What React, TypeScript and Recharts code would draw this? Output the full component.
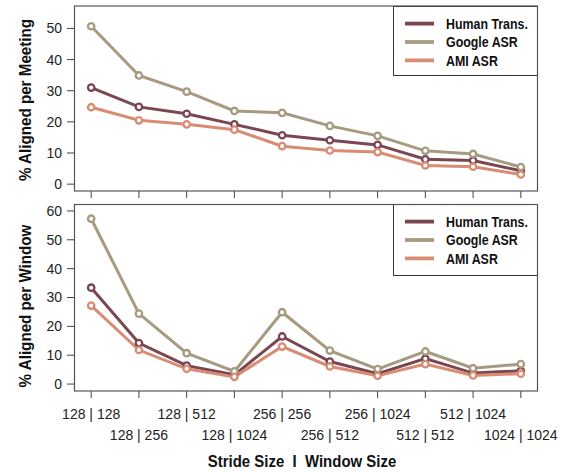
import React from 'react';
import { LineChart, Line, XAxis, YAxis, Legend } from 'recharts';

const categories = [
  '128 | 128', '128 | 256', '128 | 512', '128 | 1024', '256 | 256',
  '256 | 512', '256 | 1024', '512 | 512', '512 | 1024', '1024 | 1024',
];

// % aligned per meeting (top panel)
const meetingHuman = [31.0, 24.8, 22.6, 19.2, 15.7, 14.1, 12.6, 8.0, 7.6, 4.3];
const meetingGoogle = [50.7, 34.9, 29.7, 23.5, 22.9, 18.7, 15.5, 10.7, 9.7, 5.5];
const meetingAmi = [24.7, 20.5, 19.2, 17.5, 12.2, 10.8, 10.3, 6.0, 5.6, 3.1];

// % aligned per window (bottom panel)
const windowHuman = [33.4, 14.2, 6.4, 3.2, 16.5, 7.8, 3.6, 8.8, 3.8, 4.6];
const windowGoogle = [57.3, 24.4, 10.7, 4.4, 24.9, 11.6, 5.2, 11.3, 5.5, 6.9];
const windowAmi = [27.2, 11.8, 5.3, 2.5, 13.0, 6.1, 2.9, 6.9, 3.0, 3.6];

const meetingTicks = [0, 10, 20, 30, 40, 50];
const windowTicks = [0, 10, 20, 30, 40, 50, 60];

const series = [
  { key: 'human', name: 'Human Trans.', color: '#7a4652' },
  { key: 'google', name: 'Google ASR', color: '#a69a80' },
  { key: 'ami', name: 'AMI ASR', color: '#d98c72' },
];

const meetingData = categories.map((label, i) => ({
  i, label, human: meetingHuman[i], google: meetingGoogle[i], ami: meetingAmi[i],
}));
const windowData = categories.map((label, i) => ({
  i, label, human: windowHuman[i], google: windowGoogle[i], ami: windowAmi[i],
}));

const xTicks = categories.map((_, i) => i);
const xDomain = [-0.36, 9.36];

const sans = '"Liberation Sans", Arial, Helvetica, sans-serif';

const LegendBox = ({ height }: { height: number }) => (
  <svg width={145} height={height} style={{ display: 'block' }}>
    <rect x={0.5} y={0.5} width={144} height={height - 1} fill="#fff" stroke="#333" />
    {series.map((s, k) => {
      const cy = 17.6 + k * 18.4;
      return (
        <g key={s.key}>
          <line x1={12} x2={41} y1={cy} y2={cy} stroke={s.color} strokeWidth={3.8} />
          {/* condensed bold look */}
          <text
            transform={`translate(53,${cy + 5.4}) scale(0.8,1)`}
            fontFamily={sans}
            fontWeight="bold"
            fontSize={15.5}
            fill="#111"
          >
            {s.name}
          </text>
        </g>
      );
    })}
  </svg>
);

const EmptyTick = () => <g />;

const RowTick = (props: any) => {
  const { x, y, payload } = props;
  const idx = payload.value as number;
  const dy = idx % 2 === 0 ? 18.5 : 39.5;
  return (
    <text x={x} y={y + dy} textAnchor="middle" fontFamily={sans} fontSize={14} fill="#222">
      {categories[idx]}
    </text>
  );
};

const renderLines = () =>
  series.map((s) => (
    <Line
      key={s.key}
      dataKey={s.key}
      name={s.name}
      stroke={s.color}
      strokeWidth={3}
      dot={{ r: 3.2, fill: '#fff', stroke: s.color, strokeWidth: 2.3 }}
      isAnimationActive={false}
    />
  ));

export default function App() {
  return (
    <div style={{ position: 'absolute', left: 0, top: 0, width: 564, height: 472, background: '#fff' }}>
      <div style={{ position: 'absolute', left: 0, top: 0 }}>
        <LineChart width={564} height={200} data={meetingData} margin={{ top: 6, right: 26, bottom: 0, left: 14 }}>
          <XAxis
            dataKey="i"
            type="number"
            domain={xDomain}
            ticks={xTicks}
            interval={0}
            height={9}
            tickSize={7}
            axisLine={false}
            tickLine={{ stroke: '#444' }}
            tick={<EmptyTick />}
          />
          <YAxis
            type="number"
            domain={[-2.2, 57.2]}
            ticks={meetingTicks}
            interval={0}
            width={60}
            tickSize={7}
            tickMargin={5}
            axisLine={false}
            tickLine={{ stroke: '#444' }}
            tick={{ fontFamily: sans, fontSize: 14, fill: '#222' }}
          />
          <Legend
            layout="horizontal"
            verticalAlign="middle"
            align="center"
            wrapperStyle={{ left: 393, top: 6, width: 145, height: 70 }}
            content={() => <LegendBox height={70} />}
          />
          {renderLines()}
        </LineChart>
      </div>
      <div style={{ position: 'absolute', left: 0, top: 200 }}>
        <LineChart width={564} height={272} data={windowData} margin={{ top: 4, right: 26, bottom: 0, left: 14 }}>
          <XAxis
            dataKey="i"
            type="number"
            domain={xDomain}
            ticks={xTicks}
            interval={0}
            height={81}
            tickSize={7}
            axisLine={false}
            tickLine={{ stroke: '#444' }}
            tick={<RowTick />}
          />
          <YAxis
            type="number"
            domain={[-2.4, 62.4]}
            ticks={windowTicks}
            interval={0}
            width={60}
            tickSize={7}
            tickMargin={5}
            axisLine={false}
            tickLine={{ stroke: '#444' }}
            tick={{ fontFamily: sans, fontSize: 14, fill: '#222' }}
          />
          <Legend
            layout="horizontal"
            verticalAlign="middle"
            align="center"
            wrapperStyle={{ left: 393, top: 4, width: 145, height: 72 }}
            content={() => <LegendBox height={72} />}
          />
          {renderLines()}
        </LineChart>
      </div>
      <svg width={564} height={472} style={{ position: 'absolute', left: 0, top: 0, pointerEvents: 'none' }}>
        <rect x={74.5} y={6} width={463} height={185} fill="none" stroke="#555" strokeWidth={1.2} />
        <rect x={74.5} y={204.5} width={463} height={186.5} fill="none" stroke="#555" strokeWidth={1.2} />
        <text
          transform="translate(31,100) rotate(-90) scale(0.92,1)"
          textAnchor="middle"
          fontFamily={sans}
          fontWeight="bold"
          fontSize={16.5}
          fill="#111"
        >
          % Aligned per Meeting
        </text>
        <text
          transform="translate(31,306) rotate(-90) scale(0.92,1)"
          textAnchor="middle"
          fontFamily={sans}
          fontWeight="bold"
          fontSize={16.5}
          fill="#111"
        >
          % Aligned per Window
        </text>
        <text
          transform="translate(302,467) scale(0.88,1)"
          textAnchor="middle"
          fontFamily={sans}
          fontWeight="bold"
          fontSize={17}
          fill="#111"
          style={{ whiteSpace: 'pre' }}
        >
          {'Stride Size  I  Window Size'}
        </text>
      </svg>
    </div>
  );
}
